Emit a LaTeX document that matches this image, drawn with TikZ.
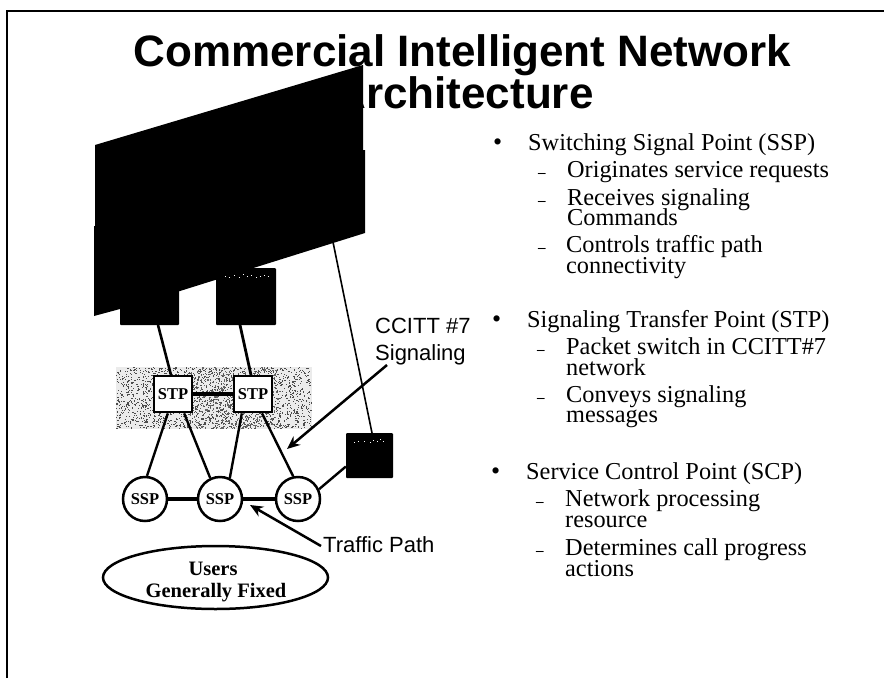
\documentclass[tikz,border=0pt]{standalone}
\usepackage{fontspec}
\setmainfont{Liberation Serif}
\newfontfamily\arialf{Liberation Sans}
\usetikzlibrary{arrows.meta,shapes.geometric}
\tikzset{
  headtxt/.style={anchor=base west,inner sep=0pt,font=\fontsize{24.3}{24.3}\selectfont},
  subtxt/.style={anchor=base west,inner sep=0pt,font=\fontsize{24.3}{24.3}\selectfont},
  dashtxt/.style={anchor=base west,inner sep=0pt,font=\bfseries\fontsize{15}{15}\selectfont},
  bullettxt/.style={anchor=base west,inner sep=0pt,font=\fontsize{26}{26}\selectfont},
  titletxt/.style={anchor=base,inner sep=0pt,font=\arialf\bfseries\fontsize{44}{44}\selectfont},
  labeltxt/.style={anchor=base west,inner sep=0pt,font=\arialf\fontsize{22}{22}\selectfont},
  stpbox/.style={draw,line width=2.7pt,fill=white,minimum width=38pt,minimum height=36pt,inner sep=0pt,font=\bfseries\fontsize{16.5}{16.5}\selectfont},
  sspnode/.style={draw,circle,line width=2.5pt,fill=white,minimum size=44pt,inner sep=0pt,font=\bfseries\fontsize{16.5}{16.5}\selectfont},
  blackbox/.style={fill=black,inner sep=0pt,rounded corners=1pt},
  thin link/.style={line width=2.4pt},
  thick link/.style={line width=4pt},
  callout/.style={line width=2.5pt,-{Stealth[length=13pt,width=11pt]}},
  usertxt/.style={anchor=base,inner sep=0pt,font=\bfseries\fontsize{20.5}{20.5}\selectfont},
}
\begin{document}
\begin{tikzpicture}[x=1pt,y=-1pt]
\useasboundingbox (0,0) rectangle (884,678);
% frame
\coordinate (fa) at (7,678); \coordinate (fb) at (7,11); \coordinate (fc) at (884,11);
\draw[line width=1.8pt] (fa) -- (fb) -- (fc);
% title
\node[titletxt] (t1) at (462.5,66) {Commercial Intelligent Network};
\node[titletxt] (t2) at (464,108) {Architecture};
% stippled band
\pgfmathsetseed{7}
\fill[black!8] (116,367) rectangle (312,429);
\foreach \i in {1,...,2000}{
  \pgfmathsetmacro{\px}{116+195*rnd}
  \pgfmathsetmacro{\py}{367+61*rnd}
  \fill[black!70] (\px,\py) rectangle +(1.1,1.1);
}
\foreach \i in {1,...,550}{
  \pgfmathsetmacro{\px}{190+90*rnd}
  \pgfmathsetmacro{\py}{367+61*rnd}
  \fill[black!60] (\px,\py) rectangle +(1.2,1.2);
}
% black device blocks
\node[blackbox,minimum width=60pt,minimum height=57pt] (box2) at (246,296.5) {};
\node[blackbox,minimum width=59pt,minimum height=36pt] (box1) at (149.5,307) {};
\fill[black] (95,145) -- (363,65) -- (363,150) -- (365,150) -- (365,233) -- (180,291) -- (120,309) -- (94,316) -- (94,226) -- (95,226) -- cycle;
\node[blackbox,minimum width=47pt,minimum height=45pt] (scp) at (369.5,455.5) {};
\foreach \a/\b in {225/276,229/277,234/275,239/277,243/274,247/276,251/275,256/277,260/276,264/275,268/276,
  354/442,358/441,364/441,370/442,373/440,377/441,380/439,383/441}{
  \fill[white] (\a,\b) rectangle +(1.4,1);
}
% STP and SSP
\node[stpbox] (stpa) at (173,394) {STP};
\node[stpbox] (stpb) at (253,394) {STP};
\node[sspnode] (sspa) at (145,499) {SSP};
\node[sspnode] (sspb) at (220,499) {SSP};
\node[sspnode] (sspc) at (298,499) {SSP};
\coordinate (q1) at (158,325); \coordinate (r1) at (171,375);
\coordinate (q2) at (240,325); \coordinate (r2) at (251,375);
\coordinate (q3) at (333,242); \coordinate (r3) at (372,433);
\draw[line width=2.6pt] (q1) -- (r1);
\draw[line width=2.8pt] (q2) -- (r2);
\draw[line width=1.6pt] (q3) -- (r3);
\draw[line width=3.5pt] (stpa.east) -- (stpb.west);
\draw[thin link] (stpa.-105) -- (sspa.85);
\draw[thin link] (stpa.-60) -- (sspb.115);
\draw[thin link] (stpb.-120) -- (sspb.65);
\draw[thin link] (stpb.-65) -- (sspc.102);
\draw[thick link] (sspa.east) -- (sspb.west);
\draw[thick link] (sspb.east) -- (sspc.west);
\draw[line width=2.4pt] (sspc.25) -- (scp.-155);
% labels
\node[labeltxt] (lc) at (375,333) {CCITT \#7};
\node[labeltxt] (ls) at (375,360) {Signaling};
\node[labeltxt] (lt) at (323,552) {Traffic Path};
\coordinate (ac) at (387,365); \coordinate (ad) at (287,449);
\coordinate (at1) at (321,546); \coordinate (at2) at (250,505);
\draw[callout] (ac) -- (ad);
\draw[callout] (at1) -- (at2);
% users
\node[draw,ellipse,line width=2.5pt,minimum width=225pt,minimum height=63pt,inner sep=0pt,fill=white] (users) at (215.5,577.5) {};
\node[usertxt] (u1) at (213,575) {Users};
\node[usertxt] (u2) at (216,597) {Generally Fixed};
% bullet text
\node[bullettxt] (b1) at (493,150) {\textbullet};
\node[headtxt] (h1) at (528,150) {Switching Signal Point (SSP)};
\node[dashtxt] (d1) at (538,177) {–};
\node[subtxt] (s1) at (567,177) {Originates service requests};
\node[dashtxt] (d2) at (538,205) {–};
\node[subtxt] (s2) at (567,205) {Receives signaling};
\node[subtxt] (s3) at (567,225) {Commands};
\node[dashtxt] (d3) at (538,252) {–};
\node[subtxt] (s4) at (566,252) {Controls traffic path};
\node[subtxt] (s5) at (566,273) {connectivity};
\node[bullettxt] (b2) at (492,327) {\textbullet};
\node[headtxt] (h2) at (527,327) {Signaling Transfer Point (STP)};
\node[dashtxt] (d4) at (537,354) {–};
\node[subtxt] (s6) at (566,354) {Packet switch in CCITT\#7};
\node[subtxt] (s7) at (566,375) {network};
\node[dashtxt] (d5) at (537,402) {–};
\node[subtxt] (s8) at (566,402) {Conveys signaling};
\node[subtxt] (s9) at (566,422) {messages};
\node[bullettxt] (b3) at (491,479) {\textbullet};
\node[headtxt] (h3) at (526,479) {Service Control Point (SCP)};
\node[dashtxt] (d6) at (536,506) {–};
\node[subtxt] (s10) at (565,506) {Network processing};
\node[subtxt] (s11) at (565,527) {resource};
\node[dashtxt] (d7) at (536,555) {–};
\node[subtxt] (s12) at (565,555) {Determines call progress};
\node[subtxt] (s13) at (565,576) {actions};
\end{tikzpicture}
\end{document}
